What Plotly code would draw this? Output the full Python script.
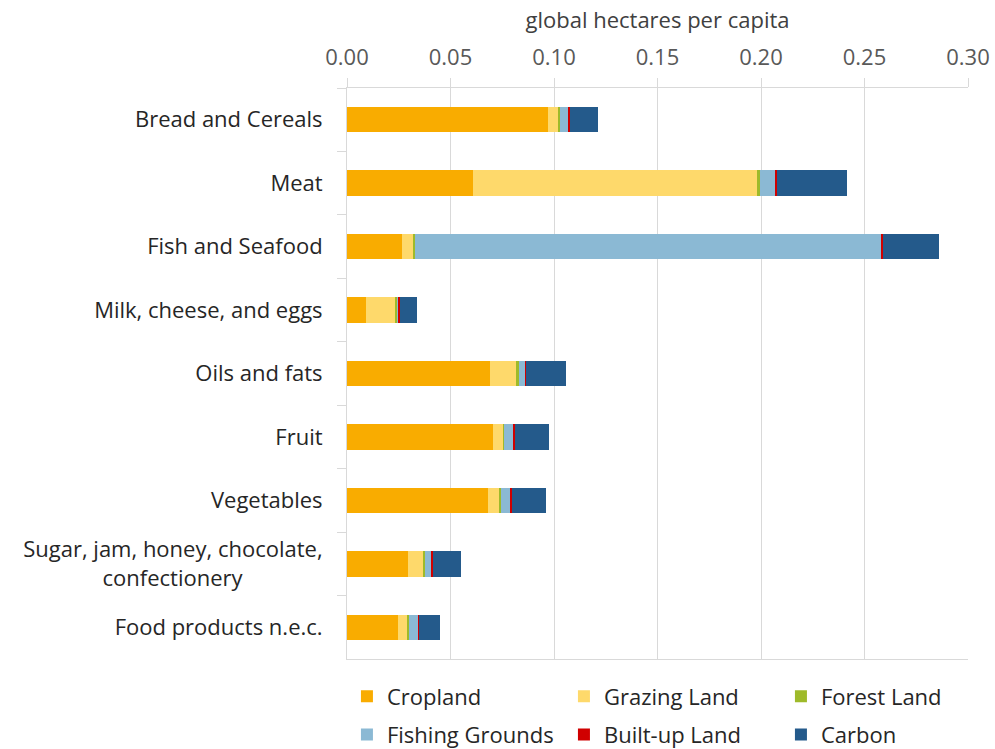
import plotly.graph_objects as go

categories = [
    "Bread and Cereals",
    "Meat",
    "Fish and Seafood",
    "Milk, cheese, and eggs",
    "Oils and fats",
    "Fruit",
    "Vegetables",
    "Sugar, jam, honey, chocolate,<br>confectionery" + "\u00a0" * 14,
    "Food products n.e.c.",
]

cropland = [0.097, 0.0607, 0.0265, 0.0092, 0.0689, 0.0703, 0.0682, 0.0297, 0.0248]
grazing = [0.0050, 0.1373, 0.0058, 0.0143, 0.0129, 0.0052, 0.0052, 0.0068, 0.0041]
forest = [0.0010, 0.0015, 0.0005, 0.0005, 0.0014, 0.0005, 0.0010, 0.0011, 0.0011]
fishing = [0.0040, 0.0073, 0.2256, 0.0010, 0.0031, 0.0040, 0.0041, 0.0034, 0.0044]
builtup = [0.0007, 0.0009, 0.0007, 0.0006, 0.0002, 0.0010, 0.0010, 0.0006, 0.0002]
carbon = [0.0137, 0.0338, 0.0269, 0.0084, 0.0193, 0.0164, 0.0165, 0.0136, 0.0104]

series = [
    ("Cropland", cropland, "#F9AC00", "legend"),
    ("Grazing Land", grazing, "#FED96B", "legend"),
    ("Forest Land", forest, "#9EBA2A", "legend"),
    ("Fishing Grounds", fishing, "#8BB9D4", "legend2"),
    ("Built-up Land", builtup, "#D00000", "legend2"),
    ("Carbon", carbon, "#245A8B", "legend2"),
]

x_ticks = [0.0, 0.05, 0.10, 0.15, 0.20, 0.25, 0.30]
x_ticklabels = ["0.00", "0.05", "0.10", "0.15", "0.20", "0.25", "0.30"]

fig = go.Figure()
for name, vals, color, leg in series:
    fig.add_trace(go.Bar(
        y=categories, x=vals, name=name, orientation="h",
        marker=dict(color=color, line=dict(width=0)),
        width=0.4, legend=leg,
    ))

font_family = "Open Sans, sans-serif"
line_col = "#D9D9D9"

legend_common = dict(
    orientation="h", x=-0.0001, xanchor="left", yanchor="top",
    entrywidth=172, entrywidthmode="pixels",
    font=dict(size=22, color="#262626"),
    traceorder="normal", itemsizing="constant",
    bgcolor="rgba(0,0,0,0)",
)

fig.update_layout(
    barmode="stack",
    width=995, height=749,
    margin=dict(l=347, r=27, t=88, b=90, autoexpand=False),
    paper_bgcolor="white", plot_bgcolor="white",
    font=dict(family=font_family, size=22, color="#404040"),
    xaxis=dict(
        side="top", range=[0, 0.30], tickvals=x_ticks, ticktext=x_ticklabels,
        showgrid=True, gridcolor=line_col, gridwidth=1,
        zeroline=False, showline=True, linecolor=line_col, linewidth=1, mirror=True,
        ticks="outside", ticklen=9, tickcolor=line_col,
        tickfont=dict(size=22, color="#595959"),
        ticklabelstandoff=4,
        title=dict(text="global hectares per capita", font=dict(size=22, color="#404040"), standoff=6),
    ),
    yaxis=dict(
        autorange="reversed", type="category",
        showline=True, linecolor=line_col, linewidth=1,
        ticks="outside", tickson="boundaries", ticklen=9, tickcolor=line_col,
        tickfont=dict(size=22, color="#262626"),
        ticklabelstandoff=19,
        showgrid=False,
    ),
    legend=dict(y=-0.029, **legend_common),
    legend2=dict(y=-0.0956, **legend_common),
)

fig.write_html(
    "out.html",
    config={"displayModeBar": False},
    post_script="document.body.style.margin='0';",
)
